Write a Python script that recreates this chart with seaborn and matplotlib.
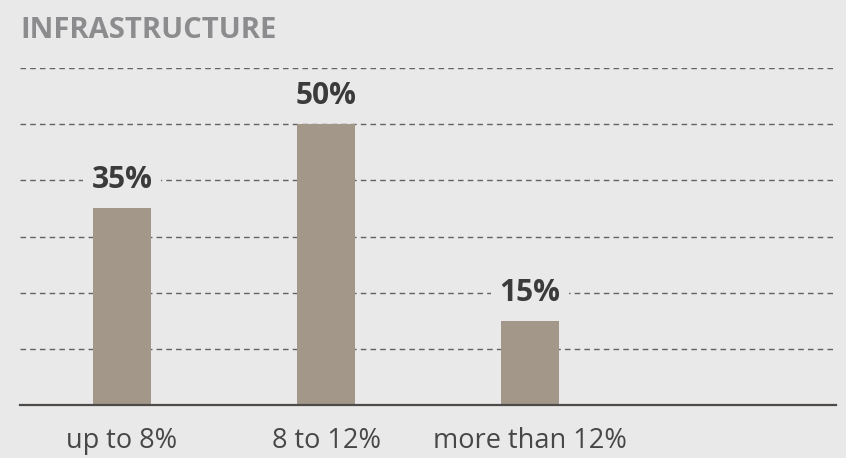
import matplotlib
matplotlib.use("Agg")
import matplotlib.pyplot as plt
import seaborn as sns
import pandas as pd

categories = ["up to 8%", "8 to 12%", "more than 12%", ""]
values = [35, 50, 15, None]
value_labels = ["35%", "50%", "15%", ""]
title = "INFRASTRUCTURE"

BG = "#e9e9e9"
BAR = "#a29789"

sns.set_theme(style="white")
plt.rcParams["font.family"] = ["Open Sans", "DejaVu Sans"]

fig = plt.figure(figsize=(8.46, 4.58), dpi=100, facecolor=BG)
ax = fig.add_axes([20/846, (458-405)/458, (836-20)/846, (405-68)/458])
ax.set_facecolor(BG)

df = pd.DataFrame({"cat": categories[:3], "val": values[:3]})
sns.barplot(data=df, x="cat", y="val", color=BAR, width=0.28, saturation=1,
            linewidth=0, ax=ax, zorder=3, order=categories[:3])

ax.set_xlim(-0.5, 3.5)
ax.set_ylim(0, 60)
ax.set_yticks([10, 20, 30, 40, 50, 60])
ax.yaxis.grid(True, linestyle=(0, (4, 3)), color="#626262", linewidth=1.0, zorder=1)
ax.set_axisbelow(True)
ax.tick_params(axis="y", left=False, labelleft=False)
ax.set_xticks(range(3))
ax.set_xticklabels(categories[:3], fontsize=19.5, color="#474747")
ax.tick_params(axis="x", length=0, pad=16)
ax.set_xlabel("")
ax.set_ylabel("")
for s in ["top", "left", "right"]:
    ax.spines[s].set_visible(False)
ax.spines["bottom"].set_color("#4d4a47")
ax.spines["bottom"].set_linewidth(1.6)
ax.spines["bottom"].set_zorder(4)

for i, (v, lab) in enumerate(zip(values[:3], value_labels[:3])):
    ax.annotate(lab, (i, v), xytext=(0, 28), textcoords="offset pixels",
                ha="center", va="center", fontsize=21.5, fontweight="bold",
                color="#3b3b3b", zorder=5,
                bbox=dict(boxstyle="square,pad=0.3", fc=BG, ec="none"))

fig.text(20/846, 1 - 31/458, title, fontsize=21, fontweight="bold",
         color="#8c8c8e", ha="left", va="center")

fig.savefig("out.png", dpi=100, facecolor=BG)
